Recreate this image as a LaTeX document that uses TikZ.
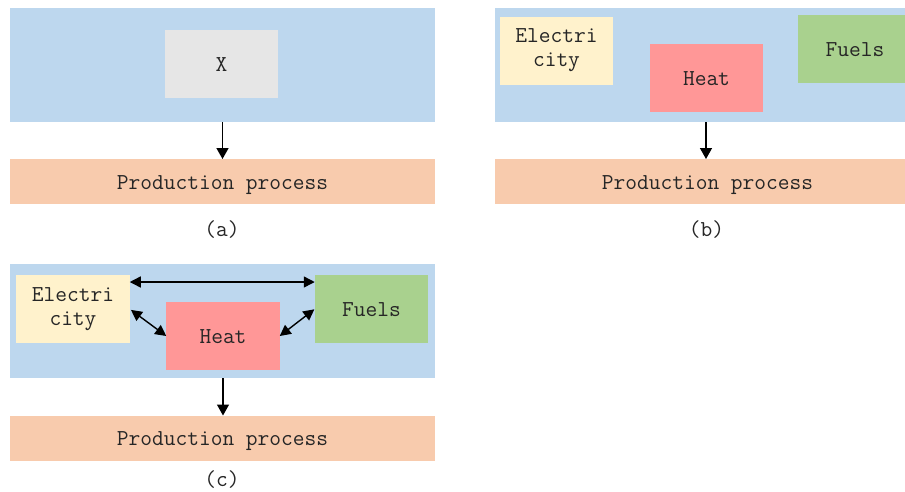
\documentclass[tikz,border=0pt]{standalone}
\usepackage{fontspec}
\usetikzlibrary{arrows.meta}
\definecolor{bluebg}{HTML}{BDD7EE}
\definecolor{orangebg}{HTML}{F8CBAD}
\definecolor{graybx}{HTML}{E6E6E6}
\definecolor{yellowbx}{HTML}{FFF2CC}
\definecolor{redbx}{HTML}{FF9797}
\definecolor{greenbx}{HTML}{A9D18E}
\definecolor{txt}{HTML}{262626}
\begin{document}
\begin{tikzpicture}[x=1pt,y=-1pt,
  every node/.style={font=\ttfamily\fontsize{22.8}{24}\selectfont, text=txt, inner sep=0pt, outer sep=0pt},
  oneline/.style={text height=15.6pt, text depth=0pt},
  panel/.style={fill=bluebg, minimum width=425pt, minimum height=114pt},
  prod/.style={oneline, fill=orangebg, minimum width=425pt, minimum height=45pt},
  box/.style={minimum width=113.5pt, minimum height=68pt, align=center},
  caption/.style={anchor=base},
  arr/.style={-{Triangle[length=11pt,width=12pt]}, line width=1.4pt},
  darr/.style={{Triangle[length=11pt,width=11pt]}-{Triangle[length=11pt,width=11pt]}, line width=1.4pt}]
\clip (0,0) rectangle (905,491);
% (a)
\node[panel] (pa) at (222.5,65) {};
\node[box, oneline, fill=graybx] (xa) at (221.5,64) {X};
\node[prod] (oa) at (222.5,181.5) {Production process};
\node[caption] (la) at (222,236) {(a)};
\draw[arr] (pa.south) -- (oa.north);
% (b)
\node[panel] (pb) at (707.5,65) {};
\node[box, fill=yellowbx] (eb) at (556.5,50.5) {Electri\\city};
\node[box, oneline, fill=redbx] (hb) at (706.5,78) {Heat};
\node[box, oneline, fill=greenbx] (fb) at (855,49) {Fuels};
\node[prod] (ob) at (707.5,181.5) {Production process};
\node[caption] (lb) at (706.5,236) {(b)};
\draw[arr] ([xshift=-1.5pt]pb.south) -- ([xshift=-1.5pt]ob.north);
% (c)
\node[panel] (pc) at (222.5,321) {};
\node[box, fill=yellowbx] (ec) at (73,309) {Electri\\city};
\node[box, oneline, fill=redbx] (hc) at (223,336) {Heat};
\node[box, oneline, fill=greenbx] (fc) at (371.5,309) {Fuels};
\node[prod] (oc) at (222.5,438) {Production process};
\node[caption] (lc) at (222,486) {(c)};
\draw[arr] ([xshift=0.5pt]pc.south) -- ([xshift=0.5pt]oc.north);
\draw[darr] ([yshift=-7pt]ec.north east) -- ([yshift=-7pt]fc.north west);
\draw[darr, shorten <=1.5pt] (ec.east) -- (hc.west);
\draw[darr, shorten <=0.5pt] (fc.west) -- (hc.east);
\end{tikzpicture}
\end{document}
